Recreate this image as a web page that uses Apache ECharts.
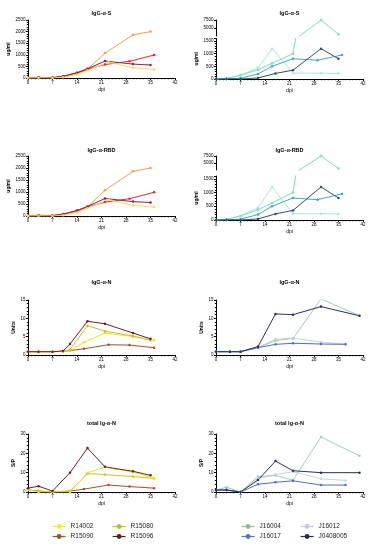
<!DOCTYPE html>
<html><head><meta charset="utf-8">
<script src="https://cdn.jsdelivr.net/npm/echarts@6/dist/echarts.min.js"></script>
<style>html,body{margin:0;padding:0;background:#fff}#c{width:377px;height:550px}</style>
</head><body><div id="c"></div>
<script>
// ---- data (dpi, values) ----
const dpiTicks = [0, 7, 14, 21, 28, 35, 42];
const titles = ['IgG-α-S', 'IgG-α-RBD', 'IgG-α-N', 'total Ig-α-N'];
const groupR = ['R14002', 'R15080', 'R15090', 'R15096'];
const groupJ = ['J16004', 'J16012', 'J16017', 'J0408005'];

// IgG-α-S (ug/ml), R animals (same data drawn for RBD panel)
const sR15080Days = [0, 3, 7, 10, 14, 17, 22, 30, 35];
const sR15080 = [0, 10, 20, 60, 180, 380, 1075, 1860, 2000];
const sR15090Days = [0, 3, 7, 10, 14, 17, 22, 29, 36];
const sR15090 = [0, 30, 20, 80, 220, 380, 580, 720, 990];
const sR15096Days = [0, 3, 7, 10, 14, 17, 22, 30, 35];
const sR15096 = [0, 20, 10, 70, 230, 400, 730, 600, 560];
const sR14002Days = [0, 3, 7, 10, 14, 17, 23, 30, 36];
const sR14002 = [0, 10, 0, 30, 150, 330, 680, 440, 370];

// IgG-α-S (ug/ml), J animals
const sJ16004Days = [0, 3, 7, 12, 16, 22, 30, 35];
const sJ16004 = [0, 20, 150, 370, 620, 1000, 7500, 3000];
const sJ16012Days = [0, 3, 7, 12, 16, 22, 30, 35];
const sJ16012 = [0, 20, 150, 450, 1200, 230, 230, 220];
const sJ16017Days = [0, 3, 7, 12, 16, 22, 29, 36];
const sJ16017 = [0, 10, 30, 200, 500, 800, 740, 950];
const sJ0408005Days = [0, 3, 7, 12, 17, 22, 30, 35];
const sJ0408005 = [0, 0, 0, 40, 220, 350, 1200, 800];

// IgG-α-N (Units), R animals
const nR15096Days = [0, 3, 7, 10, 12, 17, 22, 30, 35];
const nR15096 = [0.9, 0.9, 0.9, 1.1, 3.0, 9.2, 8.5, 6.0, 4.4];
const nR15080Days = [0, 3, 7, 10, 12, 17, 22, 30, 35];
const nR15080 = [0.9, 0.9, 0.9, 1.0, 1.5, 8.0, 6.5, 5.2, 4.0];
const nR14002Days = [0, 3, 7, 10, 12, 16, 22, 30, 36];
const nR14002 = [0.9, 0.9, 0.9, 1.0, 1.2, 3.5, 6.0, 5.0, 4.0];
const nR15090Days = [0, 3, 7, 10, 12, 16, 23, 29, 36];
const nR15090 = [0.9, 0.9, 0.9, 1.0, 1.2, 1.7, 2.8, 2.7, 2.0];

// IgG-α-N (Units), J animals
const nJ0408005Days = [0, 4, 7, 12, 17, 22, 30, 41];
const nJ0408005 = [0.9, 0.9, 0.9, 2.3, 11.2, 11.0, 13.2, 10.7];
const nJ16004Days = [0, 4, 7, 12, 17, 22, 30, 41];
const nJ16004 = [0.9, 0.9, 0.9, 2.0, 3.9, 4.5, 15.3, 10.7];
const nJ16012Days = [0, 4, 7, 12, 17, 22, 30, 37];
const nJ16012 = [0.9, 0.9, 0.9, 2.0, 4.3, 4.6, 3.5, 3.0];
const nJ16017Days = [0, 4, 7, 12, 17, 22, 30, 37];
const nJ16017 = [0.9, 0.9, 0.9, 2.0, 2.9, 3.2, 3.0, 2.9];

// total Ig-α-N (S/P), R animals
const tR15096Days = [0, 3, 7, 12, 17, 22, 30, 35];
const tR15096 = [2, 3, 0.5, 10, 22.7, 13, 10.7, 8.6];
const tR14002Days = [0, 3, 7, 12, 17, 22, 30, 36];
const tR14002 = [1, 0, 0, 0, 10, 12.8, 10.2, 7.2];
const tR15080Days = [0, 3, 7, 12, 17, 22, 30, 36];
const tR15080 = [1, 0.5, 0, 0.5, 9.5, 9, 8, 7];
const tR15090Days = [0, 3, 7, 12, 16, 23, 29, 36];
const tR15090 = [1, 0.5, 0, 0.5, 1.5, 3.6, 2.8, 2.0];

// total Ig-α-N (S/P), J animals
const tJ16004Days = [0, 3, 7, 12, 17, 22, 30, 41];
const tJ16004 = [1, 2.5, 0, 8, 8.5, 6.2, 28.4, 18.7];
const tJ0408005Days = [0, 3, 7, 12, 17, 22, 30, 41];
const tJ0408005 = [1, 1, 0, 6.2, 16, 11, 10, 10];
const tJ16012Days = [0, 3, 7, 12, 17, 22, 30, 37];
const tJ16012 = [1, 1.5, 0, 7, 9, 10.5, 6.8, 6];
const tJ16017Days = [0, 3, 7, 12, 17, 22, 30, 37];
const tJ16017 = [1, 1, 0, 4, 5, 5.8, 3.6, 3.6];

// ---- styles ----
const FONT = 'Liberation Sans';
const colTopR = {R15080: '#f5a04a', R15090: '#e8283c', R15096: '#8c2345', R14002: '#f6dc5c'};
const colTopJ = {J16004: '#72e2b9', J16012: '#a6e8df', J16017: '#4aa3c4', J0408005: '#2e4e64'};
const colBotR = {R15096: '#6b1f1f', R15090: '#a4502e', R14002: '#e6e61e', R15080: '#cbbf2a'};
const colBotJ = {J16004: '#a9cbb4', J16012: '#c2d3ea', J16017: '#4e6fc4', J0408005: '#27305e'};
const legendCol = {R14002: '#e8f030', R15080: '#b8c030', R15090: '#a0501e', R15096: '#5a2018',
  J16004: '#90b89c', J16012: '#c4c8e4', J16017: '#5575c8', J0408005: '#202a58'};

function pairs(d, v) { return d.map((x, i) => [x, v[i]]); }

const L = 28, R = 216, W = 147;
const grids = [
  {left: L, top: 20, width: W, height: 58},      // 0 S left
  {left: R, top: 20, width: W, height: 16},      // 1 S right upper
  {left: R, top: 38.5, width: W, height: 40.5},  // 2 S right lower
  {left: L, top: 156, width: W, height: 60},     // 3 RBD left
  {left: R, top: 156, width: W, height: 14},     // 4 RBD right upper
  {left: R, top: 176, width: W, height: 44},     // 5 RBD right lower
  {left: L, top: 300, width: W, height: 55},     // 6 N left
  {left: R, top: 300, width: W, height: 55},     // 7 N right
  {left: L, top: 434, width: W, height: 58},     // 8 total left
  {left: R, top: 434, width: W, height: 58}      // 9 total right
];

const axLine = {show: true, lineStyle: {color: '#000', width: 1}};
const fmt = v => String(v);
const lbl = {fontSize: 4.5, color: '#000', fontFamily: FONT, margin: 2.5, formatter: fmt};
function xAx(gi, show) {
  return {type: 'value', gridIndex: gi, min: 0, max: 42, interval: 7, show: show,
    name: 'dpi', nameLocation: 'middle', nameGap: 9,
    nameTextStyle: {fontSize: 5, fontFamily: FONT, color: '#000'},
    axisLine: axLine, axisTick: {show: true, length: 2, lineStyle: {color: '#000'}},
    minorTick: {show: true, splitNumber: 7, length: 1.2, lineStyle: {color: '#000'}},
    axisLabel: lbl, splitLine: {show: false}, minorSplitLine: {show: false}};
}
function yAx(gi, min, max, interval, name, extra) {
  return Object.assign({type: 'value', gridIndex: gi, min: min, max: max, interval: interval,
    name: name, nameLocation: 'middle', nameGap: 11, nameRotate: 90,
    nameTextStyle: {fontSize: 5, fontFamily: FONT, color: '#000', fontWeight: 'bold'},
    axisLine: axLine, axisTick: {show: true, length: 2, lineStyle: {color: '#000'}},
    minorTick: {show: true, splitNumber: 5, length: 1.2, lineStyle: {color: '#000'}},
    axisLabel: lbl, splitLine: {show: false}, minorSplitLine: {show: false}}, extra || {});
}

const xAxis = [xAx(0, true), xAx(1, false), xAx(2, true), xAx(3, true), xAx(4, false), xAx(5, true),
  xAx(6, true), xAx(7, true), xAx(8, true), xAx(9, true)];
const upperLbl = Object.assign({}, lbl, {showMinLabel: false});
const lowerLbl = Object.assign({}, lbl, {showMaxLabel: false});
const yAxis = [
  yAx(0, 0, 2500, 500, 'ug/ml'),
  yAx(1, 2500, 7500, 2500, '', {axisLabel: upperLbl, minorTick: {show: false}}),
  yAx(2, 0, 1600, 500, 'ug/ml', {axisLabel: lowerLbl, nameGap: 12}),
  yAx(3, 0, 2500, 500, 'ug/ml'),
  yAx(4, 2500, 7500, 2500, '', {axisLabel: upperLbl, minorTick: {show: false}}),
  yAx(5, 0, 1600, 500, 'ug/ml', {axisLabel: lowerLbl, nameGap: 12}),
  yAx(6, 0, 15, 5, 'Units', {nameGap: 9}),
  yAx(7, 0, 15, 5, 'Units', {nameGap: 9}),
  yAx(8, 0, 30, 10, 'S/P', {nameGap: 9}),
  yAx(9, 0, 30, 10, 'S/P', {nameGap: 9})
];

const series = [];
function add(gi, name, color, d, v) {
  series.push({type: 'line', name: name, xAxisIndex: gi, yAxisIndex: gi, data: pairs(d, v),
    symbol: 'circle', symbolSize: 2.5, clip: true, animation: false,
    lineStyle: {width: 1, color: color}, itemStyle: {color: color}});
}
// S and RBD panels (same values)
[[0, [1, 2]], [3, [4, 5]]].forEach(([gl, gr]) => {
  add(gl, 'R15080', colTopR.R15080, sR15080Days, sR15080);
  add(gl, 'R15090', colTopR.R15090, sR15090Days, sR15090);
  add(gl, 'R15096', colTopR.R15096, sR15096Days, sR15096);
  add(gl, 'R14002', colTopR.R14002, sR14002Days, sR14002);
  gr.forEach(g => {
    add(g, 'J16012', colTopJ.J16012, sJ16012Days, sJ16012);
    add(g, 'J16004', colTopJ.J16004, sJ16004Days, sJ16004);
    add(g, 'J16017', colTopJ.J16017, sJ16017Days, sJ16017);
    add(g, 'J0408005', colTopJ.J0408005, sJ0408005Days, sJ0408005);
  });
});
// N panels
add(6, 'R15090', colBotR.R15090, nR15090Days, nR15090);
add(6, 'R14002', colBotR.R14002, nR14002Days, nR14002);
add(6, 'R15080', colBotR.R15080, nR15080Days, nR15080);
add(6, 'R15096', colBotR.R15096, nR15096Days, nR15096);
add(7, 'J16012', colBotJ.J16012, nJ16012Days, nJ16012);
add(7, 'J16004', colBotJ.J16004, nJ16004Days, nJ16004);
add(7, 'J16017', colBotJ.J16017, nJ16017Days, nJ16017);
add(7, 'J0408005', colBotJ.J0408005, nJ0408005Days, nJ0408005);
// total Ig panels
add(8, 'R15090', colBotR.R15090, tR15090Days, tR15090);
add(8, 'R15080', colBotR.R15080, tR15080Days, tR15080);
add(8, 'R14002', colBotR.R14002, tR14002Days, tR14002);
add(8, 'R15096', colBotR.R15096, tR15096Days, tR15096);
add(9, 'J16012', colBotJ.J16012, tJ16012Days, tJ16012);
add(9, 'J16004', colBotJ.J16004, tJ16004Days, tJ16004);
add(9, 'J16017', colBotJ.J16017, tJ16017Days, tJ16017);
add(9, 'J0408005', colBotJ.J0408005, tJ0408005Days, tJ0408005);

const titleTops = [10, 147, 279, 420];
const title = [];
titleTops.forEach((t, i) => {
  [101.5, 289.5].forEach(x => title.push({text: titles[i], left: x, top: t, textAlign: 'center', padding: 0,
    textStyle: {fontSize: 5.5, fontWeight: 'bold', fontFamily: FONT, color: '#000'}}));
});

function legendCol2(names, left) {
  return {orient: 'vertical', left: left, top: 523, padding: 0, itemWidth: 13, itemHeight: 6, itemGap: 3,
    textStyle: {fontSize: 6.5, fontFamily: FONT, color: '#222'}, selectedMode: false,
    data: names.map(n => ({name: n, itemStyle: {color: legendCol[n]}, lineStyle: {color: legendCol[n], width: 1.2}}))};
}
const legend = [
  legendCol2(['R14002', 'R15090'], 52),
  legendCol2(['R15080', 'R15096'], 112),
  legendCol2(['J16004', 'J16017'], 241),
  legendCol2(['J16012', 'J0408005'], 300)
];

const chart = echarts.init(document.getElementById('c'), null, {renderer: 'canvas'});
chart.setOption({animation: false, backgroundColor: '#fff', title, legend, grid: grids, xAxis, yAxis, series});
</script></body></html>
